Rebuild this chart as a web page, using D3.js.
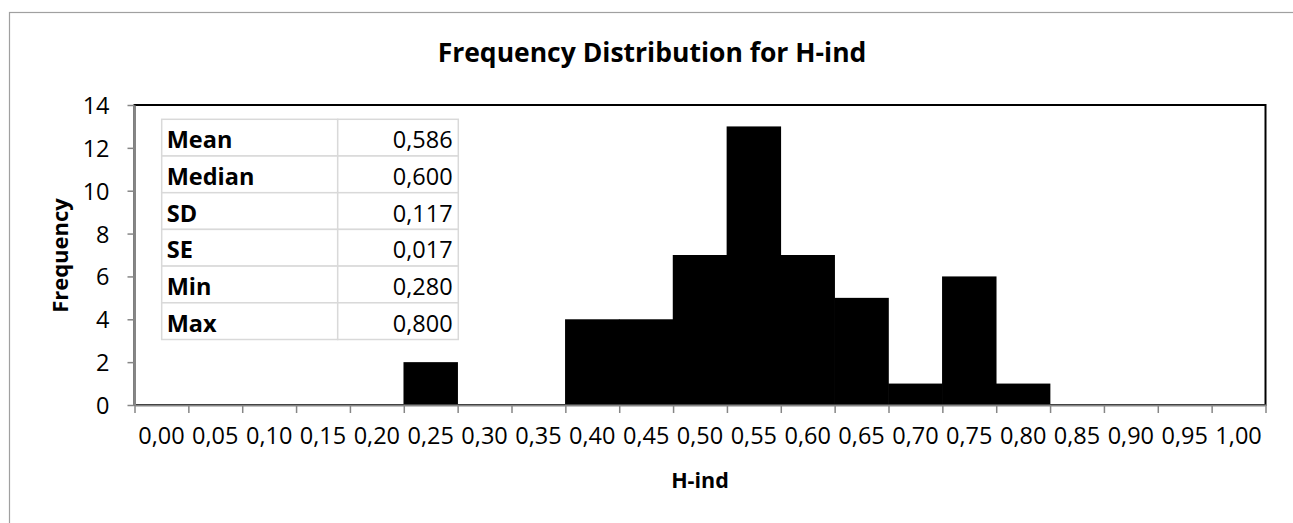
<!DOCTYPE html>
<meta charset="utf-8">
<style>
body { margin: 0; background: white; }
text { font-family: 'Open Sans', sans-serif; fill: black; }
</style>
<body>
<script src="https://d3js.org/d3.v7.min.js"></script>
<script>

	var title = "Frequency Distribution for H-ind";
	var xTitle = "H-ind";
	var yTitle = "Frequency";

	// bin labels (upper edge of each bin) and counts
	var bins = ["0,00","0,05","0,10","0,15","0,20","0,25","0,30","0,35","0,40","0,45","0,50",
	            "0,55","0,60","0,65","0,70","0,75","0,80","0,85","0,90","0,95","1,00"];
	var counts = [0,0,0,0,0,2,0,0,4,4,7,13,7,5,1,6,1,0,0,0,0];

	var yTicks = [0,2,4,6,8,10,12,14];

	// summary table
	var statNames = ["Mean","Median","SD","SE","Min","Max"];
	var statValues = ["0,586","0,600","0,117","0,017","0,280","0,800"];

	var width = 1293,
		height = 523;

	var plotLeft = 134.5,
		plotRight = 1265.5,
		plotTop = 105,
		plotBottom = 405;

	var axisGrey = "#868686";

	var svg = d3.select("body").append("svg")
		.attr("width", width)
		.attr("height", height);

	// chart area border (runs off the right and bottom edges)
	svg.append("rect")
		.attr("x", 9.5)
		.attr("y", 12.5)
		.attr("width", 1400)
		.attr("height", 700)
		.attr("fill", "white")
		.style("stroke", "#a0a0a0")
		.style("stroke-width", 1.2);

	var x = d3.scaleBand()
		.domain(bins)
		.range([plotLeft, plotRight])
		.padding(0);

	var xEdge = d3.scaleLinear()
		.domain([0, bins.length])
		.range([plotLeft, plotRight]);

	var y = d3.scaleLinear()
		.domain([0, 14])
		.range([plotBottom, plotTop]);

	// plot area border, black on top and right
	svg.append("rect")
		.attr("x", plotLeft)
		.attr("y", plotTop)
		.attr("width", plotRight - plotLeft)
		.attr("height", plotBottom - plotTop)
		.attr("fill", "none")
		.style("stroke", "black")
		.style("stroke-width", 2);

	//Bars
	svg.append("g")
		.selectAll("rect")
		.data(counts)
		.enter().append("rect")
			.attr("x", function(d, i) { return x(bins[i]) - 0.3; })
			.attr("y", function(d) { return y(d); })
			.attr("width", x.bandwidth() + 0.6)
			.attr("height", function(d) { return y(0) - y(d); })
			.attr("fill", "black");

	//Y axis
	var yAxis = svg.append("g")
		.attr("transform", "translate(" + plotLeft + ",0)")
		.call(d3.axisLeft(y).tickValues(yTicks).tickSize(7).tickPadding(18).tickSizeOuter(0));

	yAxis.select(".domain").style("stroke", axisGrey).style("stroke-width", 2);
	yAxis.selectAll(".tick line").style("stroke", axisGrey).style("stroke-width", 1.5);
	yAxis.selectAll(".tick text")
		.style("font-family", "'Open Sans', sans-serif")
		.style("font-size", "23.5px")
		.attr("dy", "0.36em");

	//X axis ticks at bin edges
	var xTickAxis = svg.append("g")
		.attr("transform", "translate(0," + plotBottom + ")")
		.call(d3.axisBottom(xEdge).tickValues(d3.range(bins.length + 1)).tickFormat("").tickSize(8).tickSizeOuter(0));

	xTickAxis.select(".domain").style("stroke", axisGrey).style("stroke-width", 2);
	xTickAxis.selectAll(".tick line").style("stroke", axisGrey).style("stroke-width", 1.5);

	//X axis labels centred in each bin
	var xLabelAxis = svg.append("g")
		.attr("transform", "translate(0," + plotBottom + ")")
		.call(d3.axisBottom(x).tickSize(0).tickPadding(22));

	xLabelAxis.select(".domain").remove();
	xLabelAxis.selectAll(".tick text")
		.style("font-family", "'Open Sans', sans-serif")
		.style("font-size", "23.5px")
		.attr("dy", "0.71em");

	//Title Text
	svg.append("text")
		.attr("x", 652)
		.attr("y", 62)
		.attr("text-anchor", "middle")
		.style("font-size", "26.5px")
		.style("font-weight", "bold")
		.text(title);

	svg.append("text")
		.attr("x", 700)
		.attr("y", 488)
		.attr("text-anchor", "middle")
		.style("font-size", "21.5px")
		.style("font-weight", "bold")
		.text(xTitle);

	svg.append("text")
		.attr("transform", "translate(68,255.5) rotate(-90)")
		.attr("text-anchor", "middle")
		.style("font-size", "22px")
		.style("font-weight", "bold")
		.text(yTitle);

	//Stats table
	var tableX = 161.7,
		tableY = 119.3,
		colSplit = 337.7,
		tableRight = 458.3,
		rowH = 36.7;

	var rows = svg.append("g")
		.selectAll("g")
		.data(statNames)
		.enter().append("g")
			.attr("transform", function(d, i) { return "translate(0," + (tableY + i * rowH) + ")"; });

	rows.append("rect")
		.attr("x", tableX)
		.attr("y", 0)
		.attr("width", colSplit - tableX)
		.attr("height", rowH)
		.attr("fill", "white")
		.style("stroke", "#d9d9d9")
		.style("stroke-width", 1.5);

	rows.append("rect")
		.attr("x", colSplit)
		.attr("y", 0)
		.attr("width", tableRight - colSplit)
		.attr("height", rowH)
		.attr("fill", "white")
		.style("stroke", "#d9d9d9")
		.style("stroke-width", 1.5);

	rows.append("text")
		.attr("x", tableX + 5)
		.attr("y", 29)
		.style("font-size", "23.5px")
		.style("font-weight", "bold")
		.text(function(d) { return d; });

	rows.append("text")
		.attr("x", tableRight - 5.6)
		.attr("y", 29)
		.attr("text-anchor", "end")
		.style("font-size", "23.5px")
		.text(function(d, i) { return statValues[i]; });

</script>
</body>
